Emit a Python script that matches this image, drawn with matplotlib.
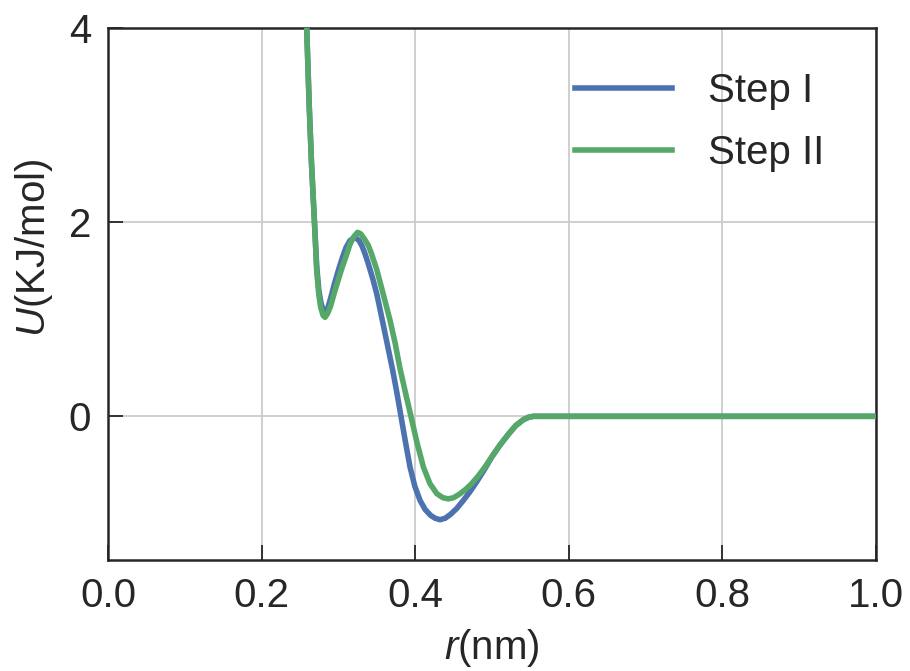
import matplotlib
matplotlib.use("Agg")
import matplotlib.pyplot as plt

plt.rcParams['font.family'] = ['Liberation Sans', 'DejaVu Sans']
plt.rcParams['mathtext.fontset'] = 'custom'
plt.rcParams['mathtext.rm'] = 'Liberation Sans'
plt.rcParams['mathtext.it'] = 'Liberation Sans:italic'

# pair potential after each refinement step
r_step1 = [0.2587, 0.2620, 0.2650, 0.2687, 0.2717, 0.2745, 0.2775, 0.2805, 0.2830,
           0.2860, 0.2900, 0.2950, 0.3000, 0.3050, 0.3100, 0.3150, 0.3216, 0.3270,
           0.3310, 0.3346, 0.3380, 0.3411, 0.3450, 0.3500, 0.3572, 0.3640, 0.3707,
           0.3760, 0.3815, 0.3870, 0.3932, 0.3995, 0.4063, 0.4130, 0.4200, 0.4260,
           0.4323, 0.4390, 0.4460, 0.4540, 0.4627, 0.4710, 0.4800, 0.4900, 0.4996,
           0.5100, 0.5213, 0.5310, 0.5408, 0.5480, 0.5540, 1.0]
u_step1 = [4.00, 3.20, 2.60, 2.02, 1.55, 1.30, 1.16, 1.09, 1.075,
           1.11, 1.22, 1.37, 1.505, 1.63, 1.74, 1.81, 1.845, 1.81,
           1.75, 1.675, 1.595, 1.515, 1.41, 1.26, 0.99, 0.73, 0.474,
           0.25, 0.00, -0.25, -0.52, -0.72, -0.866, -0.96, -1.02, -1.05,
           -1.065, -1.05, -1.01, -0.95, -0.866, -0.78, -0.675, -0.55, -0.42,
           -0.30, -0.185, -0.095, -0.035, -0.008, 0.00, 0.00]

r_step2 = [0.2587, 0.2620, 0.2650, 0.2687, 0.2717, 0.2745, 0.2770, 0.2800, 0.2826,
           0.2860, 0.2900, 0.2950, 0.3000, 0.3043, 0.3100, 0.3150, 0.3200, 0.3250,
           0.3290, 0.3340, 0.3390, 0.3433, 0.3498, 0.3580, 0.3672, 0.3740, 0.3800,
           0.3880, 0.3945, 0.4020, 0.4106, 0.4190, 0.4280, 0.4360, 0.4431, 0.4500,
           0.4580, 0.4660, 0.4735, 0.4820, 0.4910, 0.4996, 0.5100, 0.5213, 0.5310,
           0.5408, 0.5480, 0.5540, 1.0]
u_step2 = [4.00, 3.20, 2.60, 2.02, 1.505, 1.25, 1.12, 1.04, 1.02,
           1.06, 1.14, 1.28, 1.41, 1.52, 1.65, 1.77, 1.85, 1.895,
           1.88, 1.825, 1.76, 1.67, 1.515, 1.27, 0.99, 0.75, 0.50,
           0.22, 0.00, -0.26, -0.52, -0.69, -0.795, -0.838, -0.85, -0.838,
           -0.80, -0.75, -0.694, -0.615, -0.52, -0.42, -0.30, -0.185, -0.095,
           -0.035, -0.008, 0.00, 0.00]

x_ticks = [0.0, 0.2, 0.4, 0.6, 0.8, 1.0]
y_ticks = [0, 2, 4]

fig = plt.figure(figsize=(9.1, 6.71), dpi=100)
ax = fig.add_axes([0.1187, 0.1654, 0.8439, 0.7929])

ax.plot(r_step1, u_step1, color='#4C72B0', lw=4, label='Step I', zorder=3)
ax.plot(r_step2, u_step2, color='#55A868', lw=4, label='Step II', zorder=3)

ax.set_xlim(0, 1.0)
ax.set_ylim(-1.48, 4)
ax.set_xticks(x_ticks)
ax.set_xticklabels(['%.1f' % t for t in x_ticks])
ax.set_yticks(y_ticks)

ax.grid(True, color='#cccccc', lw=1.3, zorder=0)
ax.set_axisbelow(True)
for s in ax.spines.values():
    s.set_linewidth(1.8)
    s.set_color('#262626')
ax.tick_params(direction='in', length=11, width=1.3, color='#262626',
               labelsize=29, labelcolor='#262626', pad=12)

ax.set_xlabel(r'$\mathit{r}$(nm)', fontsize=29, color='#262626', labelpad=9)
ax.set_ylabel(r'$\mathit{U}$(KJ/mol)', fontsize=29, color='#262626')
ax.yaxis.set_label_coords(-0.069, 0.586)

ax.legend(loc='upper left', bbox_to_anchor=(0.608, 0.918), frameon=False,
          fontsize=29, handlelength=2.4, handletextpad=0.9,
          borderpad=0, borderaxespad=0, labelspacing=0.6,
          labelcolor='#262626')

fig.savefig('out.png', dpi=100)
